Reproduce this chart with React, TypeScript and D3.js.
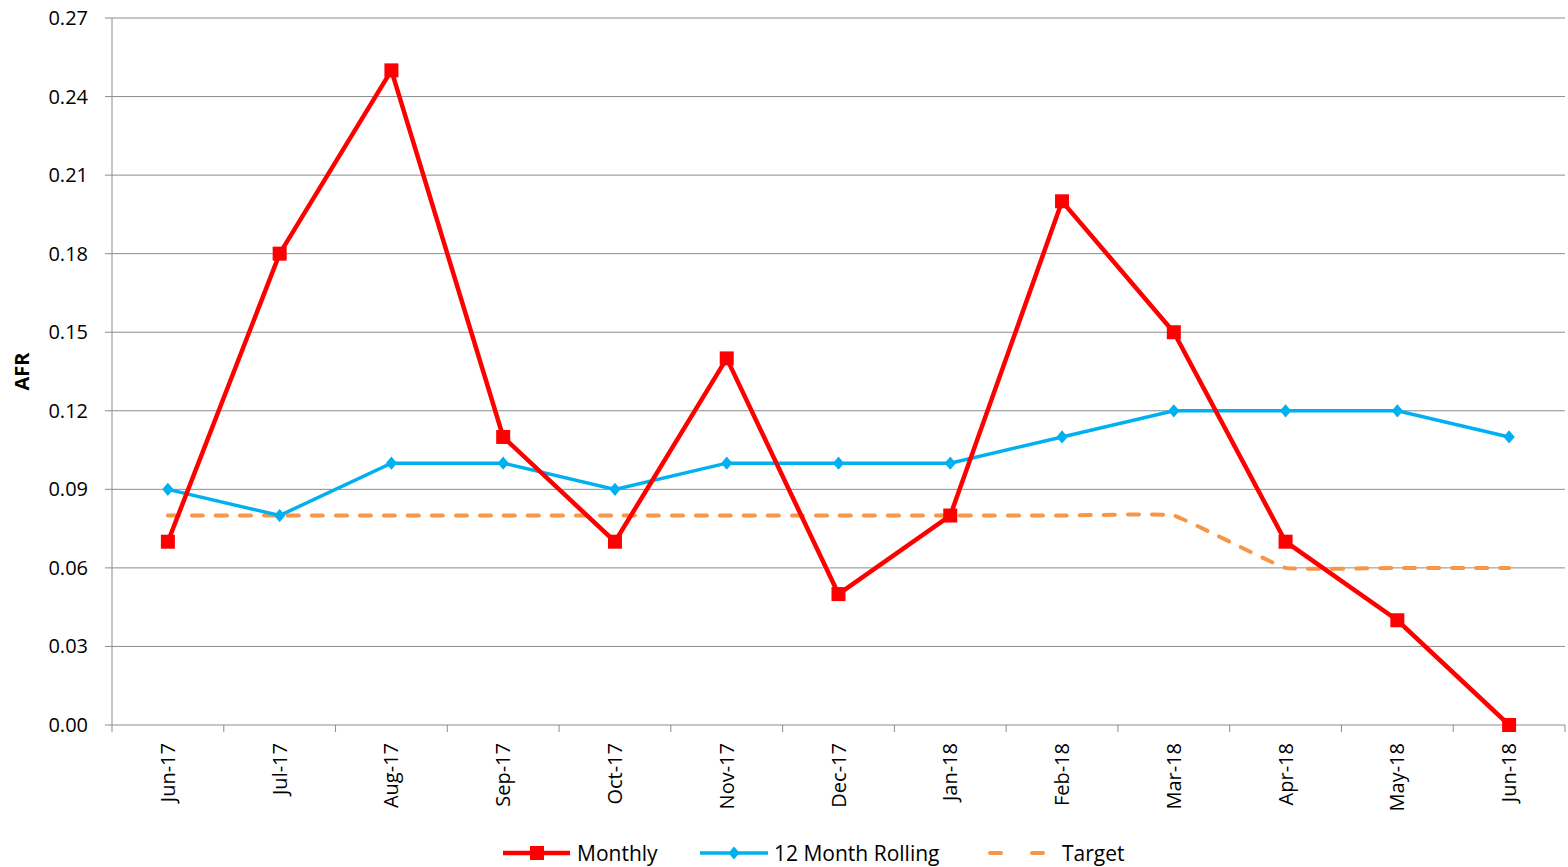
import { useEffect, useRef } from 'react';
import * as d3 from 'd3';

const months = [
  'Jun-17', 'Jul-17', 'Aug-17', 'Sep-17', 'Oct-17', 'Nov-17', 'Dec-17',
  'Jan-18', 'Feb-18', 'Mar-18', 'Apr-18', 'May-18', 'Jun-18',
];
const monthly = [0.07, 0.18, 0.25, 0.11, 0.07, 0.14, 0.05, 0.08, 0.2, 0.15, 0.07, 0.04, 0.0];
const rolling = [0.09, 0.08, 0.1, 0.1, 0.09, 0.1, 0.1, 0.1, 0.11, 0.12, 0.12, 0.12, 0.11];
const target = [0.08, 0.08, 0.08, 0.08, 0.08, 0.08, 0.08, 0.08, 0.08, 0.08, 0.06, 0.06, 0.06];
const yTicks = [0, 0.03, 0.06, 0.09, 0.12, 0.15, 0.18, 0.21, 0.24, 0.27];

const WIDTH = 1568;
const HEIGHT = 867;
const MARGIN = { top: 18, right: 3, bottom: 142, left: 112 };
const FONT = '"Open Sans", Lato, sans-serif';

export default function App() {
  const svgRef = useRef<SVGSVGElement>(null);

  useEffect(() => {
    if (!svgRef.current) return;
    const svg = d3.select(svgRef.current);
    svg.selectAll('*').remove();

    const plotW = WIDTH - MARGIN.left - MARGIN.right;
    const plotH = HEIGHT - MARGIN.top - MARGIN.bottom;

    const x = d3.scaleBand<string>().domain(months).range([0, plotW]);
    const y = d3.scaleLinear().domain([0, 0.27]).range([plotH, 0]);
    const cx = (m: string) => x(m)! + x.bandwidth() / 2;

    const g = svg
      .append('g')
      .attr('transform', `translate(${MARGIN.left},${MARGIN.top})`);

    // gridlines + y tick labels
    yTicks.forEach((t) => {
      g.append('line')
        .attr('x1', -7)
        .attr('x2', plotW)
        .attr('y1', y(t))
        .attr('y2', y(t))
        .attr('stroke', '#8c8c8c')
        .attr('stroke-width', 1);
      g.append('text')
        .attr('x', -24)
        .attr('y', y(t) + 7)
        .attr('text-anchor', 'end')
        .attr('font-size', 20)
        .attr('fill', '#000')
        .text(t.toFixed(2));
    });

    // y axis line
    g.append('line')
      .attr('x1', 0)
      .attr('x2', 0)
      .attr('y1', 0)
      .attr('y2', plotH)
      .attr('stroke', '#8c8c8c');

    // x ticks at band edges
    d3.range(months.length + 1).forEach((i) => {
      const px = i * x.bandwidth();
      g.append('line')
        .attr('x1', px)
        .attr('x2', px)
        .attr('y1', plotH)
        .attr('y2', plotH + 7)
        .attr('stroke', '#8c8c8c');
    });

    months.forEach((m) => {
      g.append('text')
        .attr('transform', `translate(${cx(m) + 7},${plotH + 18}) rotate(-90)`)
        .attr('text-anchor', 'end')
        .attr('font-size', 20)
        .attr('fill', '#000')
        .text(m);
    });

    // y label
    svg
      .append('text')
      .attr('transform', `translate(29,${MARGIN.top + y(0.135)}) rotate(-90)`)
      .attr('text-anchor', 'middle')
      .attr('font-size', 20)
      .attr('font-weight', 'bold')
      .text('AFR');

    // target (smoothed dashed)
    const targetLine = d3
      .line<number>()
      .x((_, i) => cx(months[i]))
      .y((d) => y(d))
      .curve(d3.curveCardinal.tension(0.75));
    g.append('path')
      .attr('d', targetLine(target))
      .attr('fill', 'none')
      .attr('stroke', '#f79646')
      .attr('stroke-width', 4)
      .attr('stroke-linecap', 'round')
      .attr('stroke-dasharray', '11,13');

    const line = d3
      .line<number>()
      .x((_, i) => cx(months[i]))
      .y((d) => y(d));

    // rolling
    g.append('path')
      .attr('d', line(rolling))
      .attr('fill', 'none')
      .attr('stroke', '#00b0f0')
      .attr('stroke-width', 3.5);

    // monthly
    g.append('path')
      .attr('d', line(monthly))
      .attr('fill', 'none')
      .attr('stroke', '#ff0000')
      .attr('stroke-width', 4.5);

    const diamond = d3.symbol().type(d3.symbolDiamond).size(70);
    rolling.forEach((v, i) => {
      g.append('path')
        .attr('d', diamond()!)
        .attr('transform', `translate(${cx(months[i])},${y(v)}) scale(1.25,0.85)`)
        .attr('fill', '#00b0f0');
    });

    const sq = 14;
    monthly.forEach((v, i) => {
      g.append('rect')
        .attr('x', cx(months[i]) - sq / 2)
        .attr('y', y(v) - sq / 2)
        .attr('width', sq)
        .attr('height', sq)
        .attr('fill', '#ff0000');
    });

    // legend
    const ly = 853;
    const leg = svg.append('g').attr('font-size', 21);
    leg.append('line')
      .attr('x1', 503).attr('x2', 570).attr('y1', ly).attr('y2', ly)
      .attr('stroke', '#ff0000').attr('stroke-width', 4.5);
    leg.append('rect')
      .attr('x', 537 - sq / 2).attr('y', ly - sq / 2).attr('width', sq).attr('height', sq)
      .attr('fill', '#ff0000');
    leg.append('text')
      .attr('x', 577).attr('y', ly + 8).text('Monthly');

    leg.append('line')
      .attr('x1', 700).attr('x2', 768).attr('y1', ly).attr('y2', ly)
      .attr('stroke', '#00b0f0').attr('stroke-width', 3.5);
    leg.append('path')
      .attr('d', diamond()!)
      .attr('transform', `translate(734,${ly}) scale(1.25,0.85)`)
      .attr('fill', '#00b0f0');
    leg.append('text')
      .attr('x', 774).attr('y', ly + 8).text('12 Month Rolling');

    leg.append('line')
      .attr('x1', 990).attr('x2', 1043).attr('y1', ly).attr('y2', ly)
      .attr('stroke', '#f79646').attr('stroke-width', 4)
      .attr('stroke-linecap', 'round')
      .attr('stroke-dasharray', '11,31');
    leg.append('text')
      .attr('x', 1062).attr('y', ly + 8).text('Target');
  }, []);

  return (
    <svg
      ref={svgRef}
      width={WIDTH}
      height={HEIGHT}
      style={{ position: 'absolute', left: 0, top: 0, background: '#fff', fontFamily: FONT }}
    />
  );
}
